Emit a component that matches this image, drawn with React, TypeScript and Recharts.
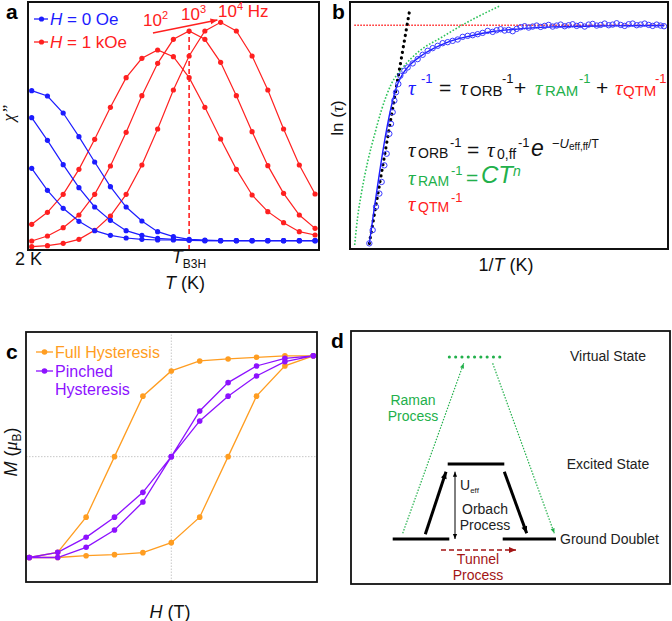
import React from 'react';
import { LineChart, Line, ComposedChart, Scatter, XAxis, YAxis, ReferenceLine } from 'recharts';

const FONT = '"Liberation Sans", Arial, sans-serif';
const SERIF = '"Liberation Serif", "Times New Roman", serif';

// ---- panel a : chi'' vs T (point index along T) ----
const T_STEPS = [0, 1, 2, 3, 4, 5, 6, 7, 8, 9, 10, 11, 12, 13, 14, 15, 16, 17, 18];
const CHI_ZERO_1 = [47.8, 46.2, 41.1, 34.0, 26.4, 19.0, 12.9, 8.7, 5.5, 4.0, 3.2, 3.0, 2.8, 2.8, 2.8, 2.8, 2.8, 2.8, 2.8];
const CHI_ZERO_2 = [39.7, 32.9, 25.6, 18.7, 12.9, 8.9, 5.8, 4.4, 3.5, 3.2, 3.0, 2.8, 2.8, 2.8, 2.8, 2.8, 2.8, 2.8, 2.8];
const CHI_ZERO_3 = [24.5, 17.9, 12.5, 8.6, 5.8, 4.4, 3.6, 3.2, 3.0, 3.0, 2.9, 2.8, 2.8, 2.8, 2.8, 2.8, 2.8, 2.8, 2.8];
const CHI_1K_100 = [7.7, 11.3, 16.7, 24.2, 33.2, 42.8, 51.7, 57.5, 60.0, 58.0, 51.7, 42.8, 33.3, 24.2, 16.5, 11.5, 8.2, 5.5, 4.5];
const CHI_1K_1000 = [2.7, 4.2, 6.7, 10.5, 16.7, 25.2, 35.3, 46.3, 56.0, 63.2, 65.7, 63.2, 56.3, 46.3, 35.5, 25.3, 17.0, 10.5, 6.5];
const CHI_1K_10000 = [1.0, 1.3, 2.0, 3.2, 5.9, 10.2, 16.7, 25.5, 36.3, 48.0, 58.2, 65.7, 68.3, 65.7, 58.2, 48.0, 36.3, 25.5, 16.8];
const TB3H_STEP = 10;
const FREQ_ARROW = [{ x: 7.7, y: 65.1 }, { x: 11.8, y: 69.0 }];

const chiRows = T_STEPS.map((t, k) => ({
  t,
  b1: CHI_ZERO_1[k], b2: CHI_ZERO_2[k], b3: CHI_ZERO_3[k],
  r1: CHI_1K_100[k], r2: CHI_1K_1000[k], r3: CHI_1K_10000[k],
}));

// ---- panel b : ln(tau) vs 1/T ----
const TAU_POINTS = [
  [5.8, 1.7], [6.8, 5.7], [7.8, 12.7], [8.8, 16.7], [9.5, 20.2], [10.3, 25.2], [11.0, 28.7], [11.8, 34.7],
  [12.3, 37.7], [12.8, 41.2], [13.3, 44.7], [13.8, 47.2], [14.5, 49.7], [15.1, 52.2], [16.3, 53.7], [17.3, 54.7],
  [18.8, 55.9], [20.3, 57.2], [21.8, 58.5], [23.3, 59.7], [24.8, 60.5], [26.3, 61.2], [27.8, 62.0], [29.3, 62.3],
  [30.8, 62.7], [32.3, 63.1], [33.8, 63.9], [35.3, 64.2], [36.8, 64.4], [38.3, 64.7], [39.8, 65.1], [41.3, 65.7],
  [42.8, 65.4], [44.0, 65.9], [45.2, 66.2], [46.4, 65.8], [47.6, 66.0], [48.8, 65.6], [50.0, 66.3], [51.2, 66.8],
  [52.4, 67.1], [53.6, 66.7], [54.8, 67.0], [56.0, 67.3], [57.2, 66.9], [58.4, 67.2], [59.6, 67.5], [60.8, 67.0],
  [62.0, 67.3], [63.2, 67.6], [64.4, 67.1], [65.6, 67.4], [66.8, 67.7], [68.0, 67.2], [69.2, 67.5], [70.4, 67.0],
  [71.6, 67.6], [72.8, 67.8], [74.0, 67.3], [75.2, 67.5], [76.4, 67.9], [77.6, 67.4], [78.8, 67.6], [80.0, 68.0],
  [81.2, 67.5], [82.4, 67.2], [83.6, 67.7], [84.8, 67.9], [86.0, 67.4], [87.2, 67.6], [88.4, 67.9], [89.6, 67.5],
  [90.8, 67.2], [92.0, 67.6], [93.2, 67.3], [94.2, 67.1],
].map(([x, y]) => ({ x, y }));
const TAU_FIT = [
  [5.8, 1.7], [14.3, 49.7], [15.8, 52.7], [17.3, 54.7], [21.8, 58.5], [28.8, 62.1], [35.8, 64.1],
  [42.8, 65.5], [50.8, 66.3], [60.8, 66.9], [75.8, 67.2], [94.3, 67.3],
].map(([x, y]) => ({ x, y }));
const ORBACH_FIT = [{ x: 5.8, y: 1.7 }, { x: 18.0, y: 72.5 }];
const QTM_FIT = [{ x: 1.3, y: 67.4 }, { x: 94.3, y: 67.4 }];
const RAMAN_FIT = [
  [1.4, 1.2], [2.3, 9.7], [3.4, 16.7], [5.4, 26.7], [7.3, 34.2], [9.4, 41.7], [12.4, 49.7],
  [15.9, 54.7], [20.9, 59.7], [27.4, 63.7], [33.4, 67.3], [38.8, 70.2], [44.9, 73.2],
].map(([x, y]) => ({ x, y }));

// ---- panel c : M vs H ----
const FIELD = [-5, -4, -3, -2, -1, 0, 1, 2, 3, 4, 5];
const FULL_DOWN = [-1.0, -0.949, -0.6, 0, 0.6, 0.85, 0.949, 0.969, 0.985, 1.0, 1.0]; // listed by ascending H
const FULL_UP = [-1.0, -1.0, -0.982, -0.972, -0.952, -0.853, -0.6, 0, 0.6, 0.9, 1.0];
const PINCHED_A = [-1.0, -0.949, -0.8, -0.6, -0.354, 0, 0.453, 0.734, 0.899, 0.975, 1.0];
const PINCHED_B = [-1.0, -1.0, -0.899, -0.727, -0.45, 0, 0.354, 0.6, 0.8, 0.942, 1.0];

const fullLoop = [
  ...FIELD.map((h, k) => ({ h, m: FULL_UP[k] })),
  ...FIELD.map((h, k) => ({ h, m: FULL_DOWN[k] })).reverse(),
];
const pinchedLoop = [
  ...FIELD.map((h, k) => ({ h, m: PINCHED_B[k] })),
  ...FIELD.map((h, k) => ({ h, m: PINCHED_A[k] })).reverse(),
];

// ---- panel d : relaxation scheme ----
const GROUND_LEFT = [{ x: 41.7, y: 45 }, { x: 98.3, y: 45 }];
const GROUND_RIGHT = [{ x: 151.7, y: 45 }, { x: 205, y: 45 }];
const EXCITED = [{ x: 96.7, y: 120 }, { x: 153.3, y: 120 }];
const VIRTUAL = [{ x: 98.3, y: 227 }, { x: 151.7, y: 227 }];
const ORBACH_UP = [{ x: 74.3, y: 49.7 }, { x: 95, y: 112.3 }];
const ORBACH_DOWN = [{ x: 153.3, y: 112.3 }, { x: 175.7, y: 50.7 }];
const RAMAN_UP = [{ x: 51.7, y: 50.7 }, { x: 112.7, y: 220.7 }];
const RAMAN_DOWN = [{ x: 141.7, y: 220.7 }, { x: 203.3, y: 50.7 }];
const UEFF_GAP = [{ x: 104, y: 45 }, { x: 104, y: 112.3 }];
const TUNNEL = [{ x: 90, y: 34 }, { x: 165, y: 34 }];

const BLUE = '#1c1cff';
const RED = '#ff2020';
const GREEN = '#22b04b';
const ORANGE = '#ff9d21';
const PURPLE = '#8d12ff';

function arrowShape(color: string, width: number, head: number, ends: 'end' | 'start' | 'both', dash?: string) {
  return (p: any) => {
    const { x1, y1, x2, y2 } = p;
    const a = Math.atan2(y2 - y1, x2 - x1);
    const w = head * 0.42;
    const tri = (x: number, y: number, ang: number) => {
      const bx = x - head * Math.cos(ang);
      const by = y - head * Math.sin(ang);
      const px = -Math.sin(ang) * w;
      const py = Math.cos(ang) * w;
      return `${x},${y} ${bx + px},${by + py} ${bx - px},${by - py}`;
    };
    return (
      <g>
        <line x1={x1} y1={y1} x2={x2} y2={y2} stroke={color} strokeWidth={width} strokeDasharray={dash} />
        {ends !== 'start' && <polygon points={tri(x2, y2, a)} fill={color} />}
        {ends !== 'end' && <polygon points={tri(x1, y1, a + Math.PI)} fill={color} />}
      </g>
    );
  };
}

// text pieces: optional absolute x, baseline shift dy, size, colour, italic
type Seg = { t: string; x?: number; s?: number; c?: string; i?: boolean; dy?: number; f?: string };
function Eq({ x, y, segs, size = 16, color = '#111', anchor }: { x: number; y: number; segs: Seg[]; size?: number; color?: string; anchor?: string }) {
  let prev = 0;
  return (
    <text x={x} y={y} fontFamily={FONT} fontSize={size} fill={color} textAnchor={anchor as any} style={{ whiteSpace: 'pre' }}>
      {segs.map((g, k) => {
        const d = (g.dy ?? 0) - prev;
        prev = g.dy ?? 0;
        return (
          <tspan key={k} x={g.x} dy={d} fontSize={g.s ?? size} fill={g.c ?? color} fontStyle={g.i ? 'italic' : undefined} fontFamily={g.f}>
            {g.t}
          </tspan>
        );
      })}
    </text>
  );
}

const abs = (left: number, top: number): React.CSSProperties => ({ position: 'absolute', left, top });
const dot = (c: string, r: number) => ({ r, fill: c, stroke: 'none' });

export default function App() {
  return (
    <div style={{ position: 'absolute', left: 0, top: 0, width: 672, height: 621, background: '#fff', overflow: 'hidden' }}>
      {/* a */}
      <div style={abs(28, 2)}>
        <LineChart width={291} height={248} data={chiRows} margin={{ top: 0, right: 0, bottom: 0, left: 0 }}>
          <XAxis dataKey="t" type="number" domain={[-0.235, 18.25]} hide allowDataOverflow />
          <YAxis type="number" domain={[0, 74.4]} hide allowDataOverflow />
          <ReferenceLine segment={[{ x: TB3H_STEP, y: 0 }, { x: TB3H_STEP, y: CHI_1K_1000[TB3H_STEP] }]} stroke={RED} strokeWidth={1.6} strokeDasharray="5 3" />
          <ReferenceLine segment={FREQ_ARROW} stroke={RED} shape={arrowShape(RED, 1.3, 7, 'end')} ifOverflow="visible" />
          {(['r1', 'r2', 'r3'] as const).map((k) => (
            <Line key={k} dataKey={k} stroke={RED} strokeWidth={1.2} dot={dot(RED, 2.6)} isAnimationActive={false} />
          ))}
          {(['b1', 'b2', 'b3'] as const).map((k) => (
            <Line key={k} dataKey={k} stroke={BLUE} strokeWidth={1.2} dot={dot(BLUE, 2.6)} isAnimationActive={false} />
          ))}
        </LineChart>
      </div>

      {/* b */}
      <div style={abs(350, 2)}>
        <ComposedChart width={318} height={247} margin={{ top: 0, right: 0, bottom: 0, left: 0 }}>
          <XAxis dataKey="x" type="number" domain={[0, 95.4]} hide allowDataOverflow />
          <YAxis dataKey="y" type="number" domain={[0, 74.4]} hide allowDataOverflow />
          <Line data={RAMAN_FIT} dataKey="y" type="monotone" stroke="#2ec25a" strokeWidth={1.6} strokeDasharray="1.6 1.8" dot={false} isAnimationActive={false} />
          <Line data={QTM_FIT} dataKey="y" stroke={RED} strokeWidth={1.5} strokeDasharray="1.5 1.5" dot={false} isAnimationActive={false} />
          <Scatter data={TAU_POINTS} isAnimationActive={false}
            shape={(p: any) => <circle cx={p.cx} cy={p.cy} r={2.7} fill="none" stroke="#3a3aff" strokeWidth={1} />} />
          <Line data={ORBACH_FIT} dataKey="y" stroke="#000" strokeWidth={3.2} strokeDasharray="0.1 5.6" strokeLinecap="round" dot={false} isAnimationActive={false} />
          <Line data={TAU_FIT} dataKey="y" type="monotone" stroke={BLUE} strokeWidth={1.4} dot={false} isAnimationActive={false} />
        </ComposedChart>
      </div>

      {/* c */}
      <div style={abs(26, 332)}>
        <LineChart width={291} height={250} margin={{ top: 0, right: 0, bottom: 0, left: 0 }}>
          <XAxis dataKey="h" type="number" domain={[-5.116, 5.13]} hide allowDataOverflow />
          <YAxis type="number" domain={[-1.243, 1.236]} hide allowDataOverflow />
          <ReferenceLine x={0} stroke="#c8c8c8" strokeDasharray="1.5 1.5" />
          <ReferenceLine y={0} stroke="#c8c8c8" strokeDasharray="1.5 1.5" />
          <Line data={fullLoop} dataKey="m" stroke={ORANGE} strokeWidth={1.3} dot={dot(ORANGE, 2.8)} isAnimationActive={false} />
          <Line data={pinchedLoop} dataKey="m" stroke={PURPLE} strokeWidth={1.3} dot={dot(PURPLE, 2.8)} isAnimationActive={false} />
        </LineChart>
      </div>

      {/* d */}
      <div style={abs(351, 331)}>
        <ComposedChart width={319} height={253} margin={{ top: 0, right: 0, bottom: 0, left: 0 }}>
          <XAxis dataKey="x" type="number" domain={[0, 319]} hide allowDataOverflow />
          <YAxis dataKey="y" type="number" domain={[0, 253]} hide allowDataOverflow />
          <Line data={VIRTUAL} dataKey="y" stroke={GREEN} strokeWidth={3} strokeDasharray="0.1 6.2" strokeLinecap="round" dot={false} isAnimationActive={false} />
          {[GROUND_LEFT, GROUND_RIGHT, EXCITED].map((lv, k) => (
            <Line key={k} data={lv} dataKey="y" stroke="#000" strokeWidth={3} dot={false} isAnimationActive={false} />
          ))}
          <ReferenceLine segment={RAMAN_UP} shape={arrowShape(GREEN, 1.2, 5, 'end', '1.5 1.5')} />
          <ReferenceLine segment={RAMAN_DOWN} shape={arrowShape(GREEN, 1.2, 5, 'end', '1.5 1.5')} />
          <ReferenceLine segment={ORBACH_UP} shape={arrowShape('#000', 3, 7, 'end')} />
          <ReferenceLine segment={ORBACH_DOWN} shape={arrowShape('#000', 3, 7, 'end')} />
          <ReferenceLine segment={UEFF_GAP} shape={arrowShape('#000', 1, 5, 'both')} />
          <ReferenceLine segment={TUNNEL} shape={arrowShape('#a31515', 1.6, 7, 'end', '5 3')} />
        </ComposedChart>
      </div>

      <svg width={672} height={621} style={{ position: 'absolute', left: 0, top: 0, pointerEvents: 'none' }}>
        <g fill="none" stroke="#111">
          <rect x={28} y={2} width={291} height={248} strokeWidth={2} />
          <rect x={350} y={2} width={318} height={247} strokeWidth={2} />
          <rect x={26} y={332} width={291} height={250} strokeWidth={1.8} />
          <rect x={351} y={331} width={319} height={253} strokeWidth={1.8} />
        </g>

        {/* panel letters */}
        <g fontFamily={FONT} fontWeight="bold" fontSize={21} fill="#000">
          <text x={6} y={19}>a</text>
          <text x={332} y={19}>b</text>
          <text x={6} y={359}>c</text>
          <text x={331} y={348}>d</text>
        </g>

        {/* a */}
        <line x1={34} y1={19} x2={48} y2={19} stroke={BLUE} strokeWidth={1.3} />
        <circle cx={41.5} cy={19} r={2.6} fill={BLUE} />
        <line x1={34} y1={42} x2={48} y2={42} stroke={RED} strokeWidth={1.3} />
        <circle cx={41.5} cy={42} r={2.6} fill={RED} />
        <Eq x={50} y={25} size={17} color={BLUE} segs={[{ t: 'H', i: true }, { t: ' = 0 Oe' }]} />
        <Eq x={50} y={48} size={17} color={RED} segs={[{ t: 'H', i: true }, { t: ' = 1 kOe' }]} />
        <Eq x={143} y={26} size={17} color={RED} segs={[{ t: '10' }, { t: '2', s: 11, dy: -7 }]} />
        <Eq x={181} y={20} size={17} color={RED} segs={[{ t: '10' }, { t: '3', s: 11, dy: -7 }]} />
        <Eq x={218} y={17} size={17} color={RED} segs={[{ t: '10' }, { t: '4', s: 11, dy: -7 }, { t: ' Hz', dy: 0 }]} />
        <text x={15} y={265} fontFamily={FONT} fontSize={18} fill="#111">2 K</text>
        <Eq x={189} y={263} size={18} anchor="middle" segs={[{ t: 'T', i: true }, { t: 'B3H', s: 12, dy: 5 }]} />
        <Eq x={185} y={289} size={18} anchor="middle" segs={[{ t: 'T', i: true }, { t: ' (K)' }]} />
        <text transform="translate(14,113) rotate(-90)" textAnchor="middle" fontFamily={SERIF} fontStyle="italic" fontSize={17} fill="#111">χ”</text>

        {/* b */}
        <text transform="translate(343,118) rotate(-90)" textAnchor="middle" fontFamily={FONT} fontSize={17} fill="#111">
          ln (<tspan fontFamily={SERIF} fontStyle="italic">τ</tspan>)
        </text>
        <Eq x={506} y={271} size={18} anchor="middle" segs={[{ t: '1/' }, { t: 'T', i: true }, { t: ' (K)' }]} />
        <Eq x={408} y={95} size={21} segs={[
          { t: 'τ', c: BLUE, i: true, f: SERIF }, { t: '-1', x: 421, c: BLUE, s: 13, dy: -12 },
          { t: '=', x: 439, dy: 0 }, { t: 'τ', x: 460, i: true, f: SERIF }, { t: 'ORB', x: 470, s: 15, dy: 1 }, { t: '-1', x: 502, s: 13, dy: -12 },
          { t: '+', x: 514, dy: 0 },
          { t: 'τ', x: 535, c: GREEN, i: true, f: SERIF }, { t: 'RAM', x: 545, c: GREEN, s: 15, dy: 1 }, { t: '-1', x: 579, c: GREEN, s: 13, dy: -12 },
          { t: '+', x: 596, dy: 0 }, { t: 'τ', x: 615, c: RED, i: true, f: SERIF }, { t: 'QTM', x: 623, c: RED, s: 15, dy: 1 }, { t: '-1', x: 655, c: RED, s: 13, dy: -12 },
        ]} />
        <Eq x={408} y={157} size={21} segs={[
          { t: 'τ', i: true, f: SERIF }, { t: 'ORB', x: 418, s: 14, dy: 1 }, { t: '-1', x: 450, s: 13, dy: -10 }, { t: '=', x: 467, dy: 0 },
          { t: 'τ', x: 487, i: true, f: SERIF }, { t: '0,ff', x: 497, s: 14, dy: 2 }, { t: '-1', x: 518, s: 13, dy: -10 }, { t: 'e', x: 531, s: 23, i: true, dy: -1 },
          { t: '−', x: 552, s: 13, dy: -9 }, { t: 'U', s: 13, i: true, dy: -9 }, { t: 'eff,ff', s: 10, dy: -7 }, { t: '/T', s: 12, dy: -9 },
        ]} />
        <Eq x={408} y={185} size={21} color={GREEN} segs={[
          { t: 'τ', i: true, f: SERIF }, { t: 'RAM', x: 418, s: 14, dy: 1 }, { t: '-1', x: 451, s: 13, dy: -10 }, { t: '=', x: 466, s: 21, dy: 0 },
          { t: 'CT', x: 481, s: 24, i: true, dy: -2 }, { t: 'n', s: 14, i: true, dy: -9 },
        ]} />
        <Eq x={408} y={211} size={21} color={RED} segs={[
          { t: 'τ', i: true, f: SERIF }, { t: 'QTM', x: 418, s: 14, dy: 1 }, { t: '-1', x: 451, s: 13, dy: -9 },
        ]} />

        {/* c */}
        <line x1={36} y1={352} x2={53} y2={352} stroke={ORANGE} strokeWidth={1.3} />
        <circle cx={44.5} cy={352} r={2.8} fill={ORANGE} />
        <line x1={36} y1={371} x2={53} y2={371} stroke={PURPLE} strokeWidth={1.3} />
        <circle cx={44.5} cy={371} r={2.8} fill={PURPLE} />
        <g fontFamily={FONT} fontSize={16}>
          <text x={55} y={358} fill={ORANGE}>Full Hysteresis</text>
          <text x={55} y={377} fill={PURPLE}>Pinched</text>
          <text x={55} y={395} fill={PURPLE}>Hysteresis</text>
        </g>
        <Eq x={170} y={618} size={18} anchor="middle" segs={[{ t: 'H', i: true }, { t: ' (T)' }]} />
        <text transform="translate(17,452) rotate(-90)" textAnchor="middle" fontFamily={FONT} fontSize={18} fill="#111">
          <tspan fontStyle="italic">M</tspan> (<tspan fontFamily={SERIF} fontStyle="italic">μ</tspan><tspan fontSize={12} dy={4}>B</tspan><tspan dy={-4}>)</tspan>
        </text>

        {/* d */}
        <g fontFamily={FONT} fontSize={14} fill="#222">
          <text x={608} y={361} textAnchor="middle">Virtual State</text>
          <text x={608} y={469} textAnchor="middle">Excited State</text>
          <text x={560} y={544}>Ground Doublet</text>
          <text x={485} y={514} textAnchor="middle">Orbach</text>
          <text x={485} y={530} textAnchor="middle">Process</text>
          <text x={460} y={490}>U<tspan fontSize={8} dy={3}>eff</tspan></text>
        </g>
        <g fontFamily={FONT} fontSize={14} fill={GREEN} textAnchor="middle">
          <text x={413} y={405}>Raman</text>
          <text x={413} y={421}>Process</text>
        </g>
        <g fontFamily={FONT} fontSize={14} fill="#a31515" textAnchor="middle">
          <text x={478} y={564}>Tunnel</text>
          <text x={478} y={580}>Process</text>
        </g>
      </svg>
    </div>
  );
}
